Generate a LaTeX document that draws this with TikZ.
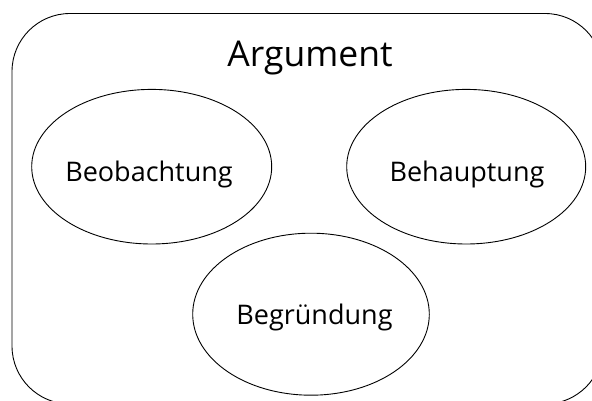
\documentclass[tikz,border=0pt]{standalone}
\usepackage{fontspec}
\setmainfont{Open Sans}
\usetikzlibrary{shapes.geometric}
\tikzset{
  frame/.style={draw=black, line width=0.9pt, rounded corners=58pt},
  bubble/.style={draw=black, line width=0.9pt, ellipse},
  lbl/.style={font=\fontsize{27}{32}\selectfont, anchor=base, inner sep=0pt},
  title/.style={font=\fontsize{35.5}{42}\selectfont, anchor=base, inner sep=0pt}
}
\begin{document}
\begin{tikzpicture}[x=1pt,y=-1pt]
\useasboundingbox (0,0) rectangle (592,401);
\clip (0,0) rectangle (592,401);
\fill[white] (0,0) rectangle (592,401);
\draw[frame] (12,13.5) rectangle (603,404);
\coordinate (boxtitle) at (310,66.5);
\node[title] (arg) at (boxtitle) {Argument};
\draw[bubble] (151.7,166.7) ellipse [x radius=120, y radius=77.3];
\draw[bubble] (466.2,166.7) ellipse [x radius=119.5, y radius=77.3];
\draw[bubble] (311,314.2) ellipse [x radius=118.3, y radius=81];
\node[lbl] (beo) at (149,181.7) {Beobachtung};
\node[lbl] (beh) at (467,181.7) {Behauptung};
\node[lbl] (beg) at (314.5,324) {Begründung};
\end{tikzpicture}
\end{document}
